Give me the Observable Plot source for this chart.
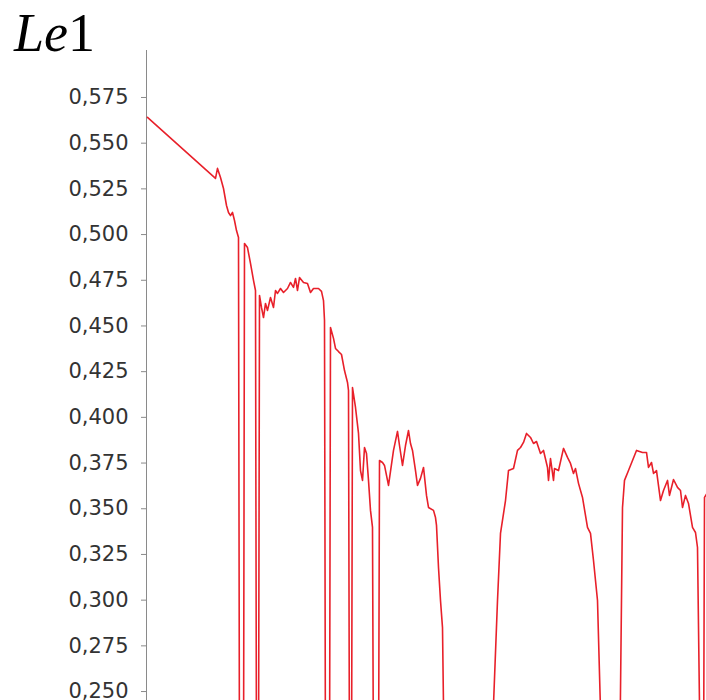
<!DOCTYPE html>
<html><head><meta charset="utf-8">
<script src="https://cdn.jsdelivr.net/npm/d3@7"></script>
<script src="https://cdn.jsdelivr.net/npm/@observablehq/plot@0.6"></script>
<style>
body{margin:0;background:#fff;}
#wrap{position:relative;width:706px;height:700px;overflow:hidden;}
#title{position:absolute;left:14px;top:6px;font-family:"Liberation Serif","Times New Roman",serif;font-size:54px;line-height:1;color:#000;z-index:2;}
#title i{font-style:italic;}
</style></head>
<body><div id="wrap"><div id="title"><i>Le</i>1</div><div id="chart"></div></div>
<script>
// x position (arbitrary sample units), Le1 value
const xs = [1,69,71,74,77,80,82,84,86,88,90,92,93,97,98,101,104,107,109,110,112,113,115,117,119,121,124,127,129,131,134,137,141,144,147,149,151,153,157,161,164,167,172,175,177,178,179,183,184,187,189,192,195,198,201,202,203,205,206,209,212,214,216,218,220,222,224,226,227,232,233,236,238,242,247,251,253,256,259,262,264,266,269,271,274,277,280,282,287,289,290,292,294,296,298,344,351,354,359,362,367,371,374,377,380,384,387,390,394,397,401,402,404,407,408,412,417,421,424,427,429,432,436,441,444,447,451,456,473,476,478,482,486,490,496,500,502,505,507,510,514,517,521,523,527,531,534,536,539,542,546,549,551,554,557,558,560];
const ys = [0.5641,0.5307,0.5362,0.5312,0.5252,0.5159,0.5121,0.5104,0.5121,0.5077,0.5022,0.4984,0.2,0.2,0.4951,0.4929,0.4842,0.4749,0.4694,0.2,0.2,0.4667,0.4601,0.4546,0.4623,0.4585,0.4656,0.4601,0.4694,0.4678,0.4705,0.4683,0.4705,0.4738,0.4711,0.4760,0.4694,0.4765,0.4738,0.4732,0.4683,0.4705,0.4705,0.4689,0.4639,0.4530,0.2,0.2,0.4492,0.4432,0.4377,0.4360,0.4344,0.4256,0.4191,0.4147,0.2,0.2,0.4163,0.4054,0.3912,0.3709,0.3655,0.3835,0.3802,0.3655,0.3491,0.3398,0.2,0.2,0.3764,0.3753,0.3737,0.3628,0.3819,0.3923,0.3846,0.3737,0.3846,0.3928,0.3857,0.3819,0.3709,0.3628,0.3666,0.3726,0.3573,0.3507,0.3491,0.3452,0.3409,0.3179,0.2998,0.2850,0.2,0.2,0.2998,0.3365,0.3545,0.3709,0.3720,0.3819,0.3835,0.3863,0.3912,0.3890,0.3857,0.3868,0.3802,0.3819,0.3726,0.3655,0.3775,0.3655,0.3720,0.3709,0.3830,0.3781,0.3748,0.3693,0.3720,0.3639,0.3562,0.3398,0.3365,0.3217,0.2998,0.2,0.2,0.3507,0.3655,0.3709,0.3764,0.3819,0.3808,0.3808,0.3726,0.3753,0.3693,0.3709,0.3545,0.3600,0.3655,0.3573,0.3660,0.3617,0.3600,0.3507,0.3573,0.3529,0.3398,0.3370,0.3288,0.2,0.2,0.3562,0.3580];
const yTicks = [0.250,0.275,0.300,0.325,0.350,0.375,0.400,0.425,0.450,0.475,0.500,0.525,0.550,0.575];

const data = xs.map((x, i) => ({x, y: ys[i]}));
const fmt = d => d3.format(".3f")(d).replace(".", ",");

const chart = Plot.plot({
  width: 706, height: 700,
  marginLeft: 146, marginRight: 0, marginTop: 50, marginBottom: 0,
  style: {fontFamily: "'DejaVu Sans', Verdana, sans-serif", fontSize: "21px", background: "#fff"},
  x: {domain: [0, 560], axis: null},
  y: {domain: [0.2451, 0.6007], axis: null},
  marks: [
    Plot.ruleX([0], {stroke: "#8a8a8a", strokeWidth: 1}),
    Plot.axisY({ticks: yTicks, tickFormat: fmt, tickSize: 5, tickPadding: 13, stroke: "#8a8a8a", fill: "#333", label: null, fontSize: 21}),
    Plot.line(data, {x: "x", y: "y", stroke: "#e8202a", strokeWidth: 1.6, clip: true})
  ]
});
document.getElementById("chart").appendChild(chart);
</script>
</body></html>
